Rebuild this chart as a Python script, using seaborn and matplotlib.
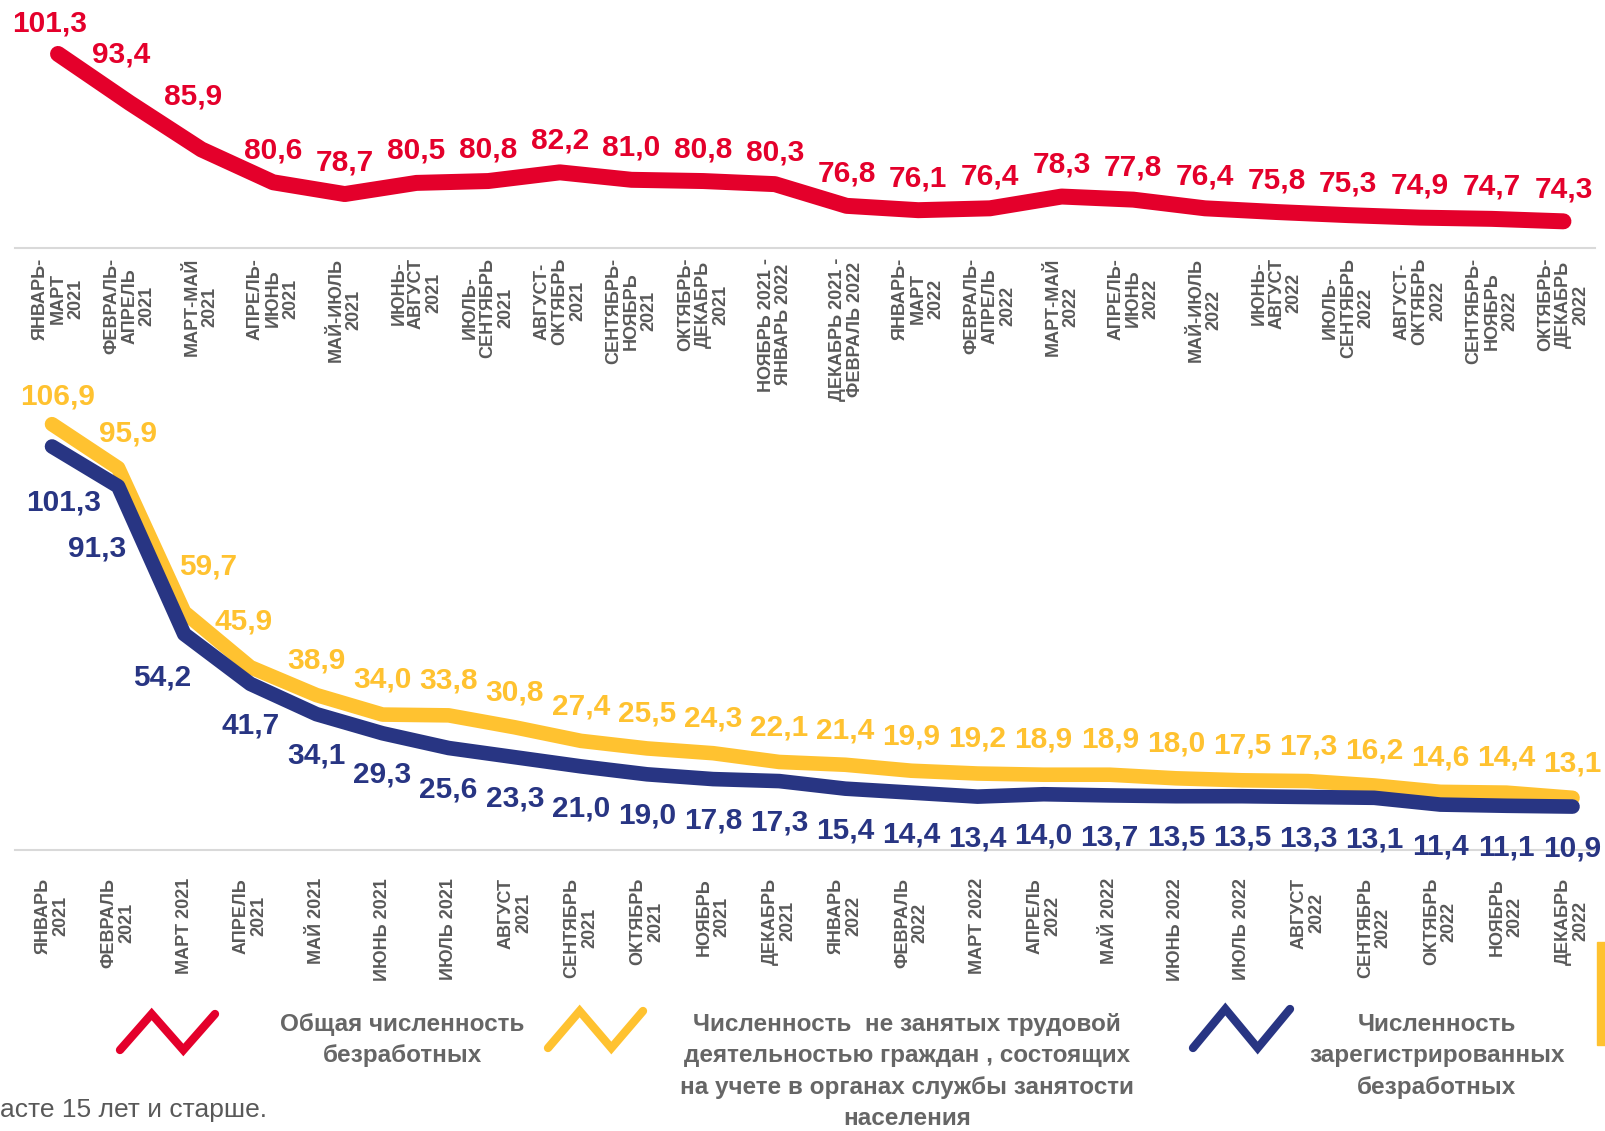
import pandas as pd
import seaborn as sns
import matplotlib.pyplot as plt
from matplotlib import font_manager
from matplotlib.lines import Line2D
from matplotlib.patches import Rectangle

# Скользящие трёхмесячные периоды (верхний график)
periods = ['ЯНВАРЬ-\nМАРТ\n2021', 'ФЕВРАЛЬ-\nАПРЕЛЬ\n2021', 'МАРТ-МАЙ\n2021',
           'АПРЕЛЬ-\nИЮНЬ\n2021', 'МАЙ-ИЮЛЬ\n2021', 'ИЮНЬ-\nАВГУСТ\n2021',
           'ИЮЛЬ-\nСЕНТЯБРЬ\n2021', 'АВГУСТ-\nОКТЯБРЬ\n2021', 'СЕНТЯБРЬ-\nНОЯБРЬ\n2021',
           'ОКТЯБРЬ-\nДЕКАБРЬ\n2021', 'НОЯБРЬ 2021 -\nЯНВАРЬ 2022', 'ДЕКАБРЬ 2021 -\nФЕВРАЛЬ 2022',
           'ЯНВАРЬ-\nМАРТ\n2022', 'ФЕВРАЛЬ-\nАПРЕЛЬ\n2022', 'МАРТ-МАЙ\n2022',
           'АПРЕЛЬ-\nИЮНЬ\n2022', 'МАЙ-ИЮЛЬ\n2022', 'ИЮНЬ-\nАВГУСТ\n2022',
           'ИЮЛЬ-\nСЕНТЯБРЬ\n2022', 'АВГУСТ-\nОКТЯБРЬ\n2022', 'СЕНТЯБРЬ-\nНОЯБРЬ\n2022',
           'ОКТЯБРЬ-\nДЕКАБРЬ\n2022']
total = [101.3, 93.4, 85.9, 80.6, 78.7, 80.5, 80.8, 82.2, 81.0, 80.8, 80.3,
         76.8, 76.1, 76.4, 78.3, 77.8, 76.4, 75.8, 75.3, 74.9, 74.7, 74.3]

# Месяцы (нижний график)
months = ['ЯНВАРЬ\n2021', 'ФЕВРАЛЬ\n2021', 'МАРТ 2021', 'АПРЕЛЬ\n2021', 'МАЙ 2021',
          'ИЮНЬ 2021', 'ИЮЛЬ 2021', 'АВГУСТ\n2021', 'СЕНТЯБРЬ\n2021', 'ОКТЯБРЬ\n2021',
          'НОЯБРЬ\n2021', 'ДЕКАБРЬ\n2021',
          'ЯНВАРЬ\n2022', 'ФЕВРАЛЬ\n2022', 'МАРТ 2022', 'АПРЕЛЬ\n2022', 'МАЙ 2022',
          'ИЮНЬ 2022', 'ИЮЛЬ 2022', 'АВГУСТ\n2022', 'СЕНТЯБРЬ\n2022', 'ОКТЯБРЬ\n2022',
          'НОЯБРЬ\n2022', 'ДЕКАБРЬ\n2022']
not_employed = [106.9, 95.9, 59.7, 45.9, 38.9, 34.0, 33.8, 30.8, 27.4, 25.5, 24.3, 22.1,
                21.4, 19.9, 19.2, 18.9, 18.9, 18.0, 17.5, 17.3, 16.2, 14.6, 14.4, 13.1]
registered = [101.3, 91.3, 54.2, 41.7, 34.1, 29.3, 25.6, 23.3, 21.0, 19.0, 17.8, 17.3,
              15.4, 14.4, 13.4, 14.0, 13.7, 13.5, 13.5, 13.3, 13.1, 11.4, 11.1, 10.9]

RED = '#E4002B'
YELLOW = '#FFC230'
NAVY = '#283583'
GRAY = '#595959'

sns.set_style('white')
plt.rcParams['font.family'] = ['Liberation Sans', 'DejaVu Sans']
installed = {f.name for f in font_manager.fontManager.ttflist}
narrow = 'Liberation Sans Narrow' if 'Liberation Sans Narrow' in installed else 'Liberation Sans'

W, H = 1605, 1131
fig = plt.figure(figsize=(W / 100, H / 100), dpi=100)
ax1 = fig.add_axes([15 / W, 1 - 248 / H, 1580 / W, 248 / H])
ax2 = fig.add_axes([15 / W, 1 - 850 / H, 1580 / W, 478 / H])
for ax in (ax1, ax2):
    ax.patch.set_alpha(0)


def fmt(v):
    return f'{v:.1f}'.replace('.', ',')


def style_axis(ax, labels, pad):
    sns.despine(ax=ax, left=True, top=True, right=True)
    ax.spines['bottom'].set_color('#D9D9D9')
    ax.spines['bottom'].set_linewidth(1.5)
    ax.set_yticks([])
    ax.set_xlabel('')
    ax.set_ylabel('')
    ax.set_xticks(range(len(labels)))
    ax.set_xticklabels(labels, rotation=90, fontsize=13, fontweight='bold', color=GRAY,
                       ha='center', va='top', multialignment='center', linespacing=1.05)
    ax.tick_params(axis='x', length=0, pad=pad)


# сдвиги подписей на крутом участке (в пунктах)
red_nudge = {0: (-6, 22), 1: (-6, 35), 2: (-6, 38)}
yellow_nudge = {0: (4, 20), 1: (7, 25), 2: (17, 33), 3: (-5, 33)}
navy_nudge = {0: (8, -40), 1: (-15, -45), 2: (-16, -31)}

# Верхний график: общая численность безработных
df_top = pd.DataFrame({'x': range(len(total)), 'v': total})
sns.lineplot(data=df_top, x='x', y='v', ax=ax1, color=RED, linewidth=11.5,
             solid_capstyle='round', solid_joinstyle='round')
for i, v in enumerate(total):
    ax1.annotate(fmt(v), (i, v), xytext=red_nudge.get(i, (0, 23)), textcoords='offset points',
                 ha='center', va='center', fontsize=21.5, fontweight='bold', color=RED)
ax1.set_xlim(-0.6, 21.44)
ax1.set_ylim(70, 110)
style_axis(ax1, periods, 7)

# Нижний график
df_bot = pd.DataFrame({'x': range(len(months)), 'ne': not_employed, 'reg': registered})
sns.lineplot(data=df_bot, x='x', y='ne', ax=ax2, color=YELLOW, linewidth=10.5,
             solid_capstyle='round', solid_joinstyle='round')
sns.lineplot(data=df_bot, x='x', y='reg', ax=ax2, color=NAVY, linewidth=10.5,
             solid_capstyle='round', solid_joinstyle='round')
for i, v in enumerate(not_employed):
    ax2.annotate(fmt(v), (i, v), xytext=yellow_nudge.get(i, (0, 25)), textcoords='offset points',
                 ha='center', va='center', fontsize=21.5, fontweight='bold', color=YELLOW)
for i, v in enumerate(registered):
    ax2.annotate(fmt(v), (i, v), xytext=navy_nudge.get(i, (0, -30)), textcoords='offset points',
                 ha='center', va='center', fontsize=21.5, fontweight='bold', color=NAVY)
ax2.set_xlim(-0.56, 23.34)
ax2.set_ylim(0, 120)
style_axis(ax2, months, 20)


# Легенда
def px(x, y):
    return x / W, 1 - y / H


def zigzag(x0, x1, ytop, ybot, color):
    step = (x1 - x0) / 3
    xs = [x0, x0 + step, x0 + 2 * step, x1]
    ys = [ybot, ytop, ybot, ytop]
    pts = [px(x, y) for x, y in zip(xs, ys)]
    fig.add_artist(Line2D([p[0] for p in pts], [p[1] for p in pts], color=color,
                          linewidth=6, solid_joinstyle='miter', transform=fig.transFigure))


zigzag(120, 215, 1014, 1050, RED)
zigzag(548, 643, 1011, 1048, YELLOW)
zigzag(1193, 1290, 1009, 1048, NAVY)

legend_style = dict(ha='center', va='top', multialignment='center', fontsize=17.5,
                    fontweight='bold', color='#666666', family=[narrow, 'DejaVu Sans'],
                    linespacing=1.47)
fig.text(*px(402, 1013), 'Общая численность\nбезработных', **legend_style)
fig.text(*px(907, 1013), 'Численность  не занятых трудовой\nдеятельностью граждан , состоящих\n'
         'на учете в органах службы занятости\nнаселения', **legend_style)
fig.text(*px(1437, 1013), 'Численность\nзарегистрированных\nбезработных', **legend_style)

fig.text(*px(0, 1110), 'асте 15 лет и старше.', ha='left', va='center', fontsize=19,
         color=GRAY, family=[narrow, 'DejaVu Sans'])

fig.add_artist(Rectangle(px(1597, 1045), 8 / W, 103 / H, color=YELLOW,
                         transform=fig.transFigure))

fig.savefig('out.png', dpi=100)
